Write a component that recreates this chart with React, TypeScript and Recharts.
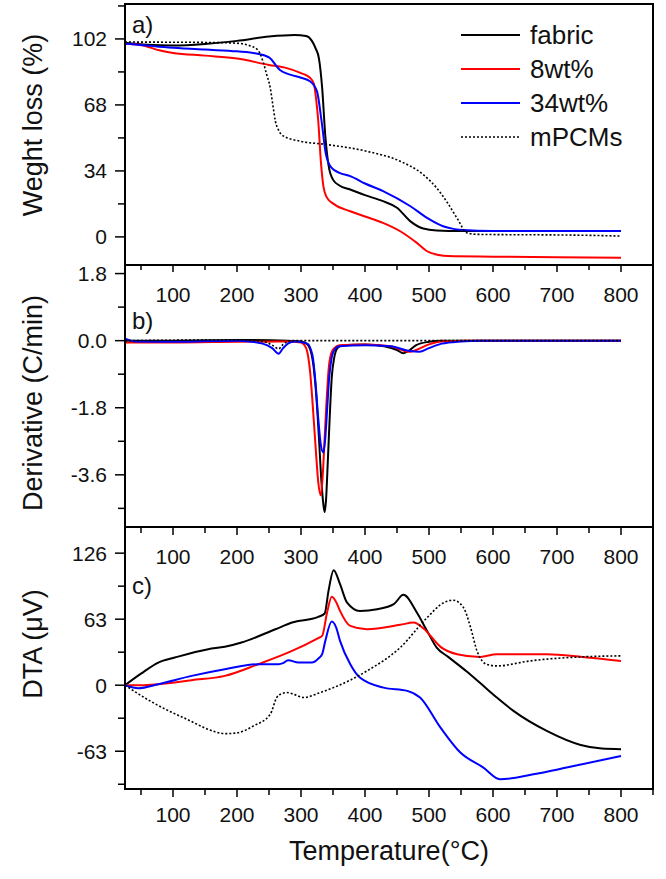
import React from 'react';
import { LineChart, Line, XAxis, YAxis, ReferenceArea, Legend } from 'recharts';

const FONT = '"Liberation Sans", Arial, sans-serif';

// series meta
const seriesNames = ['fabric', '8wt%', '34wt%', 'mPCMs'];
const seriesColors = ['#000000', '#ff0000', '#0000ff', '#000000'];
const seriesDash = ['', '', '', '2 2'];

// x axis (temperature, °C)
const xDomain = [25, 850];
const xTicks = [50, 100, 150, 200, 250, 300, 350, 400, 450, 500, 550, 600, 650, 700, 750, 800, 850];

// a) weight loss (%)
const tgaTicks = [0, 17, 34, 51, 68, 85, 102, 119];
const tgaMajor = [0, 34, 68, 102];
const tgaFabric = [[25, 100], [60, 99], [100, 98.6], [150, 99.4], [200, 101], [250, 103.2], [290, 104], [308, 103.5], [317, 101], [323, 97], [328, 92], [333, 77], [338, 52], [343, 37], [350, 29.5], [360, 26.5], [377, 24.4], [400, 21.5], [428, 18.4], [450, 15], [471, 8], [491, 4.3], [512, 3.3], [550, 3], [600, 3], [700, 3], [800, 3]];
const tga8 = [[25, 99.5], [48, 99], [80, 96], [100, 94.8], [150, 93.4], [200, 91.9], [250, 88.6], [275, 87.2], [299, 84.5], [314, 82], [320, 79], [324, 70], [327, 59.6], [331, 39], [335, 26], [340, 20.5], [351, 17], [377, 13.2], [400, 10.5], [428, 7.2], [455, 2.9], [481, -3.1], [497, -7.4], [515, -9.3], [530, -9.9], [600, -10.2], [700, -10.5], [800, -10.8]];
const tga34 = [[25, 99.7], [100, 97.5], [150, 96.5], [200, 95.6], [230, 94.5], [250, 92.5], [267, 86], [283, 83.6], [300, 82], [314, 80.2], [325, 75], [332, 60], [339, 42.4], [348, 35.5], [360, 33], [377, 31.3], [400, 27.5], [429, 23.5], [471, 15.8], [497, 9.8], [522, 5.5], [540, 4], [553, 3.5], [600, 3], [700, 3], [800, 3]];
const tgaMpcm = [[25, 100.4], [100, 100.3], [150, 100.2], [200, 99.8], [220, 98.5], [232, 96.5], [241, 90], [246, 84], [252, 76.7], [256, 68], [260, 59.6], [265, 55], [273, 51.9], [299, 49.3], [340, 47.6], [403, 44.1], [455, 39], [491, 32.1], [512, 25.2], [530, 17], [545, 9], [559, 2.1], [575, 1.3], [600, 1.2], [700, 1], [750, 0.8], [800, 0.4]];

// b) derivative (C/min)
const dtgTicks = [-4.5, -3.6, -2.7, -1.8, -0.9, 0, 0.9, 1.8];
const dtgMajor = [-3.6, -1.8, 0, 1.8];
const dtgFabric = [[25, 0], [100, 0], [200, 0.02], [280, 0], [300, -0.02], [310, -0.1], [318, -0.5], [324, -1.5], [328, -2.6], [332, -3.8], [335, -4.4], [337, -4.6], [339, -4.3], [342, -3.2], [345, -2], [348, -1], [352, -0.45], [357, -0.2], [365, -0.12], [400, -0.1], [430, -0.15], [450, -0.25], [460, -0.34], [470, -0.25], [480, -0.12], [500, -0.03], [520, 0], [600, 0], [800, 0]];
const dtg8 = [[25, -0.05], [100, -0.05], [200, -0.03], [280, -0.02], [300, -0.05], [308, -0.2], [314, -0.8], [319, -1.9], [323, -2.9], [327, -3.8], [331, -4.15], [334, -3.6], [337, -2.6], [340, -1.6], [343, -0.8], [347, -0.35], [352, -0.2], [360, -0.12], [400, -0.1], [440, -0.15], [470, -0.3], [480, -0.25], [500, -0.1], [520, -0.02], [560, 0], [800, 0]];
const dtg34 = [[25, 0.05], [40, -0.02], [100, -0.03], [200, 0], [240, -0.08], [255, -0.2], [265, -0.35], [272, -0.2], [280, -0.07], [290, -0.02], [310, -0.08], [318, -0.4], [323, -1.2], [327, -2.1], [331, -2.8], [335, -3], [338, -2.6], [341, -1.8], [344, -1], [348, -0.45], [352, -0.25], [360, -0.15], [400, -0.12], [440, -0.15], [470, -0.28], [485, -0.3], [500, -0.2], [520, -0.08], [550, -0.02], [580, 0], [800, 0]];
const dtgMpcm = [[25, 0], [200, 0.02], [240, -0.02], [255, -0.12], [265, -0.22], [272, -0.1], [285, 0], [800, 0]];

// c) DTA (µV)
const dtaTicks = [-94.5, -63, -31.5, 0, 31.5, 63, 94.5, 126];
const dtaMajor = [-63, 0, 63, 126];
const dtaFabric = [[25, 0], [50, 11], [77, 21.6], [103, 26.4], [155, 34.4], [181, 36.6], [207, 40.7], [260, 53.4], [286, 59.8], [327, 65.2], [337, 68.4], [343, 90], [351, 109.8], [361, 96.4], [372, 78.8], [392, 70.9], [419, 72.5], [445, 77.3], [460, 86.2], [481, 69.3], [497, 51.8], [512, 35.9], [530, 27], [559, 13], [580, 2], [606, -11.8], [632, -24.5], [684, -43.6], [737, -57], [770, -60.5], [800, -61.1]];
const dta8 = [[25, 0], [50, 0], [77, 1], [129, 4.8], [181, 8.9], [233, 20], [286, 32.7], [327, 45], [333, 47], [341, 70], [348, 84.3], [356, 78], [361, 70.9], [377, 56.6], [403, 53.4], [455, 57.6], [476, 59.8], [491, 54.4], [518, 36.6], [544, 29.6], [580, 27], [606, 29.6], [684, 29.6], [740, 27], [800, 23.2]];
const dta34 = [[25, 0], [46, -2.9], [77, 1], [129, 8.9], [181, 15.3], [233, 20], [265, 20], [272, 21], [280, 23.9], [296, 21.6], [317, 21.6], [328, 26], [333, 29.6], [338, 42.3], [348, 60.7], [355, 55], [361, 42.3], [377, 20], [392, 7.3], [429, -2.3], [466, -5.4], [486, -11.8], [518, -40.5], [549, -64.3], [585, -78.6], [611, -89.7], [663, -85], [715, -78.6], [800, -67.5]];
const dtaMpcm = [[25, 0], [64, -15], [116, -30.9], [184, -46.2], [200, -45.5], [226, -38.8], [252, -27.7], [262, -11.8], [270, -8], [278, -7], [290, -9], [304, -11.8], [330, -7], [351, -2.3], [403, 13.6], [455, 35.9], [497, 64.5], [523, 78.8], [538, 81.1], [554, 74], [565, 55], [575, 32.7], [590, 20], [606, 18.4], [658, 23.2], [737, 27], [800, 28]];

const toPts = (arr: number[][]) => arr.map(([t, v]) => ({ t, v }));

const YTick = ({ x, y, payload, major, fmt }: any) => {
  const isMajor = major.includes(payload.value);
  return (
    <g>
      <line x1={x - (isMajor ? 10 : 7)} x2={x} y1={y} y2={y} stroke="#000" strokeWidth={1.5} />
      {isMajor && (
        <text x={x - 18} y={y} textAnchor="end" dominantBaseline="central" fontSize={21} fontFamily={FONT} fill="#111">
          {fmt(payload.value)}
        </text>
      )}
    </g>
  );
};

const XTick = ({ x, y, payload, labelDy }: any) => {
  const v = payload.value;
  const isMajor = v % 100 === 0;
  return (
    <g>
      <line x1={x} x2={x} y1={y} y2={y + (isMajor ? 7 : 5)} stroke="#000" strokeWidth={1.5} />
      {isMajor && (
        <text x={x} y={y + labelDy} textAnchor="middle" dominantBaseline="central" fontSize={21} fontFamily={FONT} fill="#111">
          {v}
        </text>
      )}
    </g>
  );
};

const yTitle = (text: string, cy: number) => () => (
  <text
    x={33}
    y={cy}
    transform={`rotate(-90 33 ${cy})`}
    textAnchor="middle"
    dominantBaseline="central"
    fontSize={27}
    fontFamily={FONT}
    fill="#111"
  >
    {text}
  </text>
);

const tagLabel = (text: string, dy: number) => (props: any) => {
  const vb = props.viewBox || { x: 125, y: 0 };
  return (
    <text x={vb.x + 7} y={vb.y + dy} fontSize={24} fontFamily={FONT} fill="#111">
      {text}
    </text>
  );
};

const LegendBox = () => (
  <div style={{ fontFamily: FONT, fontSize: 26, color: '#111' }}>
    {seriesNames.map((name, i) => (
      <div key={name} style={{ display: 'flex', alignItems: 'center', height: 34 }}>
        <svg width={59} height={6} style={{ marginRight: 10 }}>
          <line x1={0} x2={59} y1={3} y2={3} stroke={seriesColors[i]} strokeWidth={i === 3 ? 1.6 : 2} strokeDasharray={seriesDash[i] || undefined} />
        </svg>
        <span>{name}</span>
      </div>
    ))}
  </div>
);

const renderLines = (sets: number[][][]) =>
  sets.map((s, i) => (
    <Line
      key={seriesNames[i]}
      data={toPts(s)}
      dataKey="v"
      name={seriesNames[i]}
      type="monotone"
      stroke={seriesColors[i]}
      strokeWidth={i === 3 ? 1.6 : 2}
      strokeDasharray={seriesDash[i] || undefined}
      dot={false}
      activeDot={false}
      isAnimationActive={false}
    />
  ));

// panel frames (plot borders)
const frame = (top: number, height: number): React.CSSProperties => ({
  position: 'absolute',
  left: 124,
  top,
  width: 530,
  height,
  border: '2px solid #000',
  boxSizing: 'border-box',
  pointerEvents: 'none',
});

export default function App() {
  return (
    <div style={{ position: 'absolute', left: 0, top: 0, width: 666, height: 879, background: '#fff', fontFamily: FONT }}>
      {/* a) TGA */}
      <div style={{ position: 'absolute', left: 0, top: 0 }}>
        <LineChart width={666} height={268} margin={{ top: 4, right: 13, bottom: 2, left: 0 }}>
          <XAxis type="number" dataKey="t" domain={xDomain} allowDataOverflow hide />
          <YAxis
            type="number"
            width={125}
            domain={[-15, 120]}
            allowDataOverflow
            ticks={tgaTicks}
            interval={0}
            tickSize={0}
            tickMargin={0}
            tickLine={false}
            axisLine={false}
            tick={(p: any) => <YTick {...p} major={tgaMajor} fmt={(v: number) => String(v)} />}
            label={{ content: yTitle('Weght loss (%)', 125) }}
          />
          <ReferenceArea x1={25} x2={850} y1={-15} y2={120} fill="none" stroke="none" ifOverflow="visible" label={{ content: tagLabel('a)', 29) }} />
          {renderLines([tgaFabric, tga8, tga34, tgaMpcm])}
          <Legend
            layout="vertical"
            align="center"
            verticalAlign="middle"
            content={() => <LegendBox />}
            wrapperStyle={{ position: 'absolute', left: 461, top: 18, width: 200 }}
          />
        </LineChart>
      </div>

      {/* b) DTG */}
      <div style={{ position: 'absolute', left: 0, top: 260 }}>
        <LineChart width={666} height={270} margin={{ top: 4, right: 13, bottom: 3, left: 0 }}>
          <XAxis
            type="number"
            dataKey="t"
            orientation="top"
            height={1}
            domain={xDomain}
            allowDataOverflow
            ticks={xTicks}
            interval={0}
            tickSize={0}
            tickMargin={0}
            tickLine={false}
            axisLine={false}
            tick={(p: any) => <XTick {...p} labelDy={29} />}
          />
          <YAxis
            type="number"
            width={125}
            domain={[-5, 2.03]}
            allowDataOverflow
            ticks={dtgTicks}
            interval={0}
            tickSize={0}
            tickMargin={0}
            tickLine={false}
            axisLine={false}
            tick={(p: any) => <YTick {...p} major={dtgMajor} fmt={(v: number) => v.toFixed(1)} />}
            label={{ content: yTitle('Derivative (C/min)', 143) }}
          />
          <ReferenceArea x1={25} x2={850} y1={-5} y2={2.03} fill="none" stroke="none" ifOverflow="visible" label={{ content: tagLabel('b)', 64) }} />
          {renderLines([dtgFabric, dtg8, dtg34, dtgMpcm])}
        </LineChart>
      </div>

      {/* c) DTA */}
      <div style={{ position: 'absolute', left: 0, top: 523 }}>
        <LineChart width={666} height={356} margin={{ top: 4, right: 13, bottom: 0, left: 0 }}>
          <XAxis
            xAxisId="top"
            type="number"
            dataKey="t"
            orientation="top"
            height={1}
            domain={xDomain}
            allowDataOverflow
            ticks={xTicks}
            interval={0}
            tickSize={0}
            tickMargin={0}
            tickLine={false}
            axisLine={false}
            tick={(p: any) => <XTick {...p} labelDy={28} />}
          />
          <XAxis
            type="number"
            dataKey="t"
            orientation="bottom"
            height={89}
            domain={xDomain}
            allowDataOverflow
            ticks={xTicks}
            interval={0}
            tickSize={0}
            tickMargin={0}
            tickLine={false}
            axisLine={false}
            tick={(p: any) => <XTick {...p} labelDy={24} />}
            label={{
              content: (props: any) => {
                const vb = props.viewBox || { x: 125, y: 266, width: 528 };
                return (
                  <text x={vb.x + vb.width / 2} y={vb.y + 61} textAnchor="middle" dominantBaseline="central" fontSize={27} fontFamily={FONT} fill="#111">
                    Temperature(°C)
                  </text>
                );
              },
            }}
          />
          <YAxis
            type="number"
            width={125}
            domain={[-100, 150]}
            allowDataOverflow
            ticks={dtaTicks}
            interval={0}
            tickSize={0}
            tickMargin={0}
            tickLine={false}
            axisLine={false}
            tick={(p: any) => <YTick {...p} major={dtaMajor} fmt={(v: number) => String(v)} />}
            label={{ content: yTitle('DTA (μV)', 121) }}
          />
          <ReferenceArea x1={25} x2={850} y1={-100} y2={150} fill="none" stroke="none" ifOverflow="visible" label={{ content: tagLabel('c)', 66) }} />
          {renderLines([dtaFabric, dta8, dta34, dtaMpcm])}
        </LineChart>
      </div>

      <div style={frame(3, 263)} />
      <div style={frame(264, 264)} />
      <div style={frame(526, 264)} />
    </div>
  );
}
